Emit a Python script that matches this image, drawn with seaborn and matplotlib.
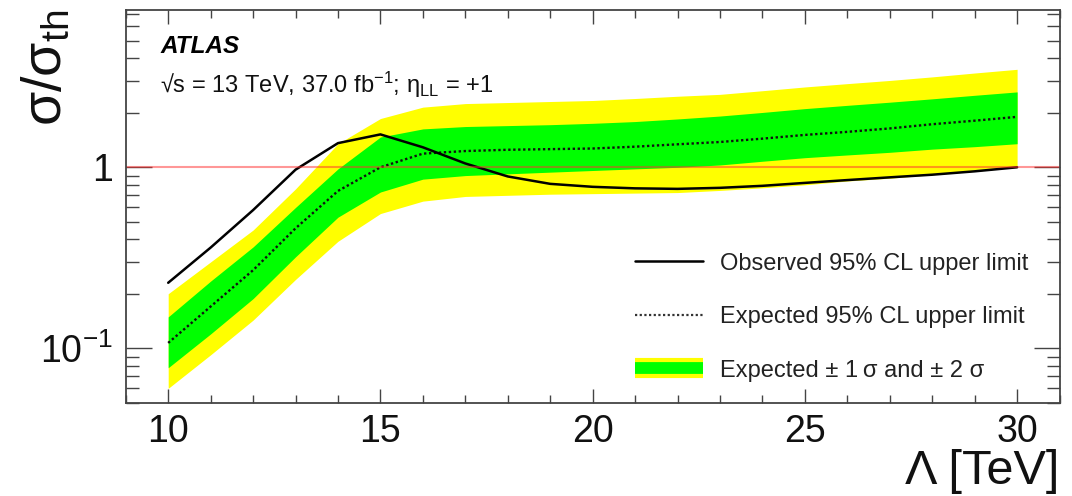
import numpy as np
import pandas as pd
import matplotlib
matplotlib.use("Agg")
import matplotlib.pyplot as plt
import seaborn as sns
from matplotlib.lines import Line2D
from matplotlib.ticker import FixedLocator, MultipleLocator, NullFormatter, LogLocator

# ---- data ----
lam = [10, 11, 12, 13, 14, 15, 16, 17, 18, 19, 20, 21, 22, 23, 24, 25, 26, 27, 28, 29, 30]
observed = [0.23, 0.36, 0.58, 0.97, 1.36, 1.52, 1.29, 1.05, 0.89, 0.81, 0.78, 0.765, 0.76,
            0.77, 0.79, 0.82, 0.85, 0.88, 0.91, 0.95, 1.00]
expected = [0.107, 0.170, 0.270, 0.460, 0.740, 1.000, 1.190, 1.230, 1.250, 1.260, 1.270,
            1.300, 1.340, 1.380, 1.440, 1.510, 1.570, 1.640, 1.730, 1.810, 1.900]
exp_p1 = [0.149, 0.235, 0.363, 0.60, 0.98, 1.47, 1.63, 1.68, 1.70, 1.72, 1.75, 1.79, 1.85,
          1.92, 2.01, 2.11, 2.20, 2.29, 2.39, 2.50, 2.61]
exp_m1 = [0.078, 0.120, 0.188, 0.32, 0.53, 0.73, 0.86, 0.90, 0.92, 0.94, 0.96, 0.98, 1.00,
          1.03, 1.08, 1.13, 1.17, 1.21, 1.26, 1.30, 1.35]
exp_p2 = [0.20, 0.30, 0.45, 0.76, 1.35, 1.86, 2.15, 2.25, 2.28, 2.31, 2.34, 2.40, 2.47,
          2.53, 2.65, 2.78, 2.90, 3.02, 3.16, 3.32, 3.48]
exp_m2 = [0.060, 0.092, 0.143, 0.24, 0.39, 0.555, 0.65, 0.69, 0.70, 0.71, 0.715, 0.72, 0.725,
          0.745, 0.77, 0.80, 0.84, 0.87, 0.91, 0.95, 1.00]
x_ticks = [10, 15, 20, 25, 30]
y_ticks = [0.1, 1]
y_tick_labels = [r"$\mathregular{10^{-1}}$", "1"]
legend_labels = ["Observed 95% CL upper limit", "Expected 95% CL upper limit",
                 "Expected \u00b1 1\u2009\u03c3 and \u00b1 2 \u03c3"]

df = pd.DataFrame({"lam": lam, "obs": observed, "exp": expected,
                   "p1": exp_p1, "m1": exp_m1, "p2": exp_p2, "m2": exp_m2})

sns.set_theme(style="white")
plt.rcParams["font.family"] = ["Liberation Sans", "DejaVu Sans"]
plt.rcParams["mathtext.fontset"] = "custom"
plt.rcParams["mathtext.rm"] = "Liberation Sans"
plt.rcParams["mathtext.it"] = "Liberation Sans:italic"
plt.rcParams["mathtext.bf"] = "Liberation Sans:bold"

fig = plt.figure(figsize=(10.72, 4.96), dpi=100)
ax = fig.add_axes([0.1173, 0.1881, 0.8711, 0.7917])

YEL = "#ffff00"
GRN = "#00ff00"

ax.fill_between(df["lam"], df["m2"], df["p2"], color=YEL, lw=0, zorder=1)
ax.fill_between(df["lam"], df["m1"], df["p1"], color=GRN, lw=0, zorder=2)

sns.lineplot(data=df, x="lam", y="exp", ax=ax, color="#111111", lw=1.7,
             linestyle=(0, (1, 1.1)), legend=False, zorder=3)
sns.lineplot(data=df, x="lam", y="obs", ax=ax, color="black", lw=1.8,
             legend=False, zorder=4)

ax.axhline(1.0, color="#ff3030", alpha=0.5, lw=1.5, zorder=5)

ax.set_yscale("log")
ax.set_xlim(9, 31)
ax.set_ylim(0.05, 7.4)

ax.xaxis.set_major_locator(FixedLocator(x_ticks))
ax.xaxis.set_minor_locator(MultipleLocator(1))
ax.yaxis.set_major_locator(FixedLocator(y_ticks))
ax.set_yticklabels(y_tick_labels)
ax.yaxis.set_minor_locator(LogLocator(base=10, subs=np.arange(2, 10)))
ax.yaxis.set_minor_formatter(NullFormatter())

tc = "#444444"
ax.tick_params(axis="both", which="both", direction="in", top=True, right=True,
               bottom=True, left=True,
               color=tc, width=1.0, labelsize=27, labelcolor="#111111")
ax.tick_params(axis="x", which="major", length=10, pad=8)
ax.tick_params(axis="x", which="minor", length=5.5)
ax.tick_params(axis="y", which="major", length=18.5, pad=9)
ax.tick_params(axis="y", which="minor", length=9.5)
for sp in ax.spines.values():
    sp.set_color("#444444")
    sp.set_linewidth(1.3)
    sp.set_zorder(7)

ax.set_xlabel("\u039b [TeV]", fontsize=35, loc="right", color="#111111")
ax.xaxis.set_label_coords(1.0, -0.118)
ax.set_ylabel(r"$\mathregular{\sigma/\sigma_{th}}$", fontsize=40, loc="top", color="#111111")
ax.yaxis.set_label_coords(-0.056, 1.0)

ax.text(0.037, 0.89, "ATLAS", transform=ax.transAxes, fontsize=17.5,
        fontweight="bold", fontstyle="italic", color="black")
ax.text(0.037, 0.79,
        "\u221as = 13 TeV, 37.0 fb$^{\\mathregular{-1}}$; \u03b7$_{\\mathregular{LL}}$ = +1",
        transform=ax.transAxes, fontsize=17, color="#111111")

h_obs = Line2D([], [], color="black", lw=1.8)
h_exp = Line2D([], [], color="#333333", lw=1.6, linestyle=(0, (1, 1.1)))
h_y = Line2D([], [], color=YEL, lw=14.5, solid_capstyle="butt")
h_g = Line2D([], [], color=GRN, lw=8.5, solid_capstyle="butt")
leg = ax.legend([h_obs, h_exp, (h_y, h_g)], legend_labels, loc="upper left",
                bbox_to_anchor=(0.545, 0.382), frameon=False, fontsize=17,
                handlelength=2.9, handletextpad=0.7, labelspacing=1.33,
                borderpad=0, borderaxespad=0)
for t in leg.get_texts():
    t.set_color("#222222")

fig.savefig("out.png", dpi=100)
